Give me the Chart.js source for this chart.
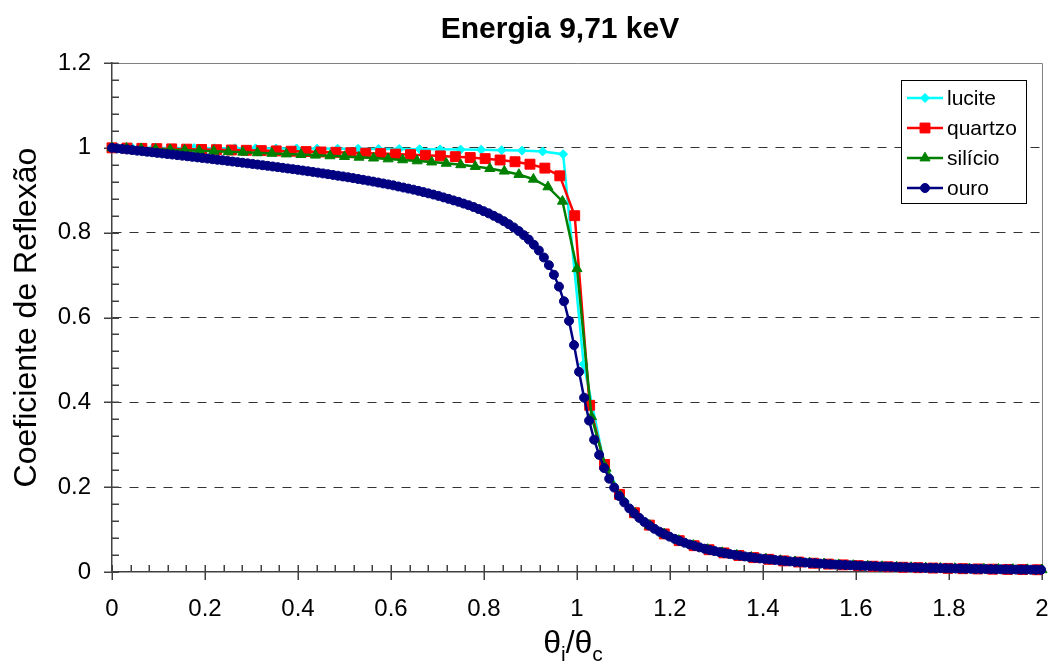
<!DOCTYPE html>
<html>
<head>
<meta charset="utf-8">
<script src="https://cdn.jsdelivr.net/npm/chart.js@4.4.0/dist/chart.umd.min.js"></script>
<style>
html,body{margin:0;padding:0;background:#ffffff;}
#wrap{position:relative;width:1053px;height:665px;}
canvas{display:block;}
</style>
</head>
<body>
<div id="wrap"><canvas id="c" width="1053" height="665"></canvas></div>
<script>
const chartTitle = 'Energia 9,71 keV';
const yAxisTitle = 'Coeficiente de Reflexão';
const seriesNames = ['lucite', 'quartzo', 'silício', 'ouro'];
const xTickLabels = ['0', '0.2', '0.4', '0.6', '0.8', '1', '1.2', '1.4', '1.6', '1.8', '2'];
const yTickLabels = ['0', '0.2', '0.4', '0.6', '0.8', '1', '1.2'];

const luciteX = [0, 0.0441, 0.0882, 0.1323, 0.1764, 0.2205, 0.2646, 0.3087, 0.3528, 0.3969, 0.441, 0.4851, 0.5292, 0.5733, 0.6174, 0.6615, 0.7056, 0.7497, 0.7938, 0.8379, 0.882, 0.9261, 0.9702, 1.0143, 1.0584, 1.1025, 1.1466, 1.1907, 1.2348, 1.2789, 1.323, 1.3671, 1.4112, 1.4553, 1.4994, 1.5435, 1.5876, 1.6317, 1.6758, 1.7199, 1.764, 1.8081, 1.8522, 1.8963, 1.9404, 1.9845];
const luciteY = [1, 0.9998, 0.9997, 0.9995, 0.9994, 0.9992, 0.999, 0.9988, 0.9986, 0.9984, 0.9982, 0.998, 0.9978, 0.9975, 0.9972, 0.9968, 0.9964, 0.9959, 0.9953, 0.9945, 0.9935, 0.9915, 0.985, 0.49, 0.2565, 0.166, 0.1177, 0.0883, 0.0681, 0.0538, 0.0435, 0.0358, 0.03, 0.0251, 0.0213, 0.0184, 0.0159, 0.0138, 0.0121, 0.0106, 0.0094, 0.0083, 0.0074, 0.0066, 0.0059, 0.0054];

const quartzoX = [0, 0.0321, 0.0642, 0.0963, 0.1284, 0.1605, 0.1926, 0.2247, 0.2568, 0.2889, 0.321, 0.3531, 0.3852, 0.4173, 0.4494, 0.4815, 0.5136, 0.5457, 0.5778, 0.6099, 0.642, 0.6741, 0.7062, 0.7383, 0.7704, 0.8025, 0.8346, 0.8667, 0.8988, 0.9309, 0.963, 0.9951, 1.0272, 1.0593, 1.0914, 1.1235, 1.1556, 1.1877, 1.2198, 1.2519, 1.284, 1.3161, 1.3482, 1.3803, 1.4124, 1.4445, 1.4766, 1.5087, 1.5408, 1.5729, 1.605, 1.6371, 1.6692, 1.7013, 1.7334, 1.7655, 1.7976, 1.8297, 1.8618, 1.8939, 1.926, 1.9581, 1.9902];
const quartzoY = [1, 0.9994, 0.9988, 0.9981, 0.9975, 0.9969, 0.9962, 0.9956, 0.9949, 0.9942, 0.9935, 0.9928, 0.992, 0.9912, 0.9903, 0.9895, 0.9885, 0.9875, 0.9864, 0.9852, 0.9839, 0.9825, 0.981, 0.9792, 0.9771, 0.9745, 0.9713, 0.9672, 0.9614, 0.9522, 0.934, 0.84, 0.393, 0.2535, 0.183, 0.1397, 0.1105, 0.0898, 0.0739, 0.062, 0.0525, 0.045, 0.0389, 0.0339, 0.0299, 0.0262, 0.0235, 0.0207, 0.0186, 0.0168, 0.015, 0.0136, 0.0123, 0.0112, 0.0102, 0.0093, 0.0086, 0.0078, 0.0072, 0.0066, 0.0061, 0.0057, 0.0053];

const silicioX = [0, 0.03125, 0.0625, 0.09375, 0.125, 0.15625, 0.1875, 0.21875, 0.25, 0.28125, 0.3125, 0.34375, 0.375, 0.40625, 0.4375, 0.46875, 0.5, 0.53125, 0.5625, 0.59375, 0.625, 0.65625, 0.6875, 0.71875, 0.75, 0.78125, 0.8125, 0.84375, 0.875, 0.90625, 0.9375, 0.96875, 1, 1.03125, 1.0625, 1.09375, 1.125, 1.15625, 1.1875, 1.21875, 1.25, 1.28125, 1.3125, 1.34375, 1.375, 1.40625, 1.4375, 1.46875, 1.5, 1.53125, 1.5625, 1.59375, 1.625, 1.65625, 1.6875, 1.71875, 1.75, 1.78125, 1.8125, 1.84375, 1.875, 1.90625, 1.9375, 1.96875, 2];
const silicioY = [1, 0.9989, 0.9977, 0.9966, 0.9955, 0.9943, 0.9931, 0.992, 0.9907, 0.9895, 0.9882, 0.9869, 0.9855, 0.9841, 0.9826, 0.9811, 0.9794, 0.9777, 0.9758, 0.9738, 0.9716, 0.9692, 0.9665, 0.9635, 0.96, 0.956, 0.9511, 0.945, 0.9371, 0.9259, 0.9079, 0.874, 0.715, 0.366, 0.2445, 0.1792, 0.1381, 0.11, 0.0899, 0.0744, 0.0627, 0.0532, 0.0458, 0.0397, 0.0347, 0.0305, 0.0271, 0.0242, 0.0213, 0.0193, 0.0172, 0.0155, 0.0141, 0.0128, 0.0117, 0.0106, 0.0097, 0.009, 0.0082, 0.0075, 0.007, 0.0064, 0.006, 0.0056, 0.0052];

const ouroX = [0, 0.0108, 0.0216, 0.0324, 0.0432, 0.054, 0.0648, 0.0756, 0.0864, 0.0972, 0.108, 0.1188, 0.1296, 0.1404, 0.1512, 0.162, 0.1728, 0.1836, 0.1944, 0.2052, 0.216, 0.2268, 0.2376, 0.2484, 0.2592, 0.27, 0.2808, 0.2916, 0.3024, 0.3132, 0.324, 0.3348, 0.3456, 0.3564, 0.3672, 0.378, 0.3888, 0.3996, 0.4104, 0.4212, 0.432, 0.4428, 0.4536, 0.4644, 0.4752, 0.486, 0.4968, 0.5076, 0.5184, 0.5292, 0.54, 0.5508, 0.5616, 0.5724, 0.5832, 0.594, 0.6048, 0.6156, 0.6264, 0.6372, 0.648, 0.6588, 0.6696, 0.6804, 0.6912, 0.702, 0.7128, 0.7236, 0.7344, 0.7452, 0.756, 0.7668, 0.7776, 0.7884, 0.7992, 0.81, 0.8208, 0.8316, 0.8424, 0.8532, 0.864, 0.8748, 0.8856, 0.8964, 0.9072, 0.918, 0.9288, 0.9396, 0.9504, 0.9612, 0.972, 0.9828, 0.9936, 1.0044, 1.0152, 1.026, 1.0368, 1.0476, 1.0584, 1.0692, 1.08, 1.0908, 1.1016, 1.1124, 1.1232, 1.134, 1.1448, 1.1556, 1.1664, 1.1772, 1.188, 1.1988, 1.2096, 1.2204, 1.2312, 1.242, 1.2528, 1.2636, 1.2744, 1.2852, 1.296, 1.3068, 1.3176, 1.3284, 1.3392, 1.35, 1.3608, 1.3716, 1.3824, 1.3932, 1.404, 1.4148, 1.4256, 1.4364, 1.4472, 1.458, 1.4688, 1.4796, 1.4904, 1.5012, 1.512, 1.5228, 1.5336, 1.5444, 1.5552, 1.566, 1.5768, 1.5876, 1.5984, 1.6092, 1.62, 1.6308, 1.6416, 1.6524, 1.6632, 1.674, 1.6848, 1.6956, 1.7064, 1.7172, 1.728, 1.7388, 1.7496, 1.7604, 1.7712, 1.782, 1.7928, 1.8036, 1.8144, 1.8252, 1.836, 1.8468, 1.8576, 1.8684, 1.8792, 1.89, 1.9008, 1.9116, 1.9224, 1.9332, 1.944, 1.9548, 1.9656, 1.9764, 1.9872, 1.998];
const ouroY = [1, 0.9987, 0.9974, 0.9961, 0.9947, 0.9934, 0.9921, 0.9908, 0.9895, 0.9881, 0.9868, 0.9855, 0.9842, 0.9828, 0.9815, 0.9801, 0.9788, 0.9774, 0.9761, 0.9747, 0.9733, 0.9719, 0.9706, 0.9692, 0.9677, 0.9663, 0.9649, 0.9634, 0.962, 0.9605, 0.959, 0.9575, 0.956, 0.9545, 0.9529, 0.9513, 0.9498, 0.9482, 0.9465, 0.9448, 0.9432, 0.9415, 0.9397, 0.9379, 0.9361, 0.9343, 0.9325, 0.9306, 0.9286, 0.9266, 0.9246, 0.9226, 0.9204, 0.9182, 0.916, 0.9138, 0.9115, 0.9089, 0.9064, 0.9039, 0.9014, 0.8986, 0.8956, 0.8927, 0.8898, 0.8867, 0.8832, 0.8797, 0.8761, 0.8726, 0.8686, 0.8648, 0.8604, 0.8557, 0.8507, 0.8456, 0.8398, 0.8338, 0.8272, 0.8201, 0.8123, 0.8038, 0.7942, 0.7837, 0.7715, 0.758, 0.7415, 0.7234, 0.7008, 0.6728, 0.6383, 0.592, 0.535, 0.472, 0.411, 0.357, 0.312, 0.276, 0.245, 0.22, 0.199, 0.179, 0.164, 0.15, 0.138, 0.1275, 0.118, 0.1095, 0.1019, 0.0951, 0.0892, 0.0834, 0.0783, 0.0733, 0.0691, 0.065, 0.0615, 0.0581, 0.0549, 0.052, 0.0493, 0.0468, 0.0444, 0.0423, 0.0403, 0.0385, 0.0367, 0.0351, 0.0335, 0.032, 0.0308, 0.0296, 0.0284, 0.0272, 0.0259, 0.025, 0.0241, 0.0233, 0.0222, 0.0212, 0.0206, 0.0198, 0.0191, 0.0183, 0.0176, 0.017, 0.0165, 0.0159, 0.0153, 0.0148, 0.0143, 0.0139, 0.0134, 0.0129, 0.0125, 0.0122, 0.0118, 0.0114, 0.011, 0.0107, 0.0104, 0.0101, 0.0097, 0.0095, 0.0092, 0.009, 0.0087, 0.0084, 0.0082, 0.008, 0.0077, 0.0075, 0.0073, 0.0071, 0.0069, 0.0067, 0.0065, 0.0063, 0.0062, 0.006, 0.0058, 0.0057, 0.0056, 0.0055, 0.0054, 0.0052];

const FONT = '"Liberation Sans", Arial, Helvetica, sans-serif';
const AXIS_COLOR = '#404040';

function pts(xs, ys) { return xs.map((x, i) => ({ x: x, y: ys[i] })); }

const seriesStyle = [
  { color: '#00FFFF', style: 'rectRot', radius: 4.5, order: 3 },
  { color: '#FF0000', style: 'rect', radius: 7, order: 2 },
  { color: '#008000', style: 'triangle', radius: 5.8, order: 1 },
  { color: '#000080', style: 'circle', radius: 4.5, order: 0 }
];
const seriesData = [pts(luciteX, luciteY), pts(quartzoX, quartzoY), pts(silicioX, silicioY), pts(ouroX, ouroY)];

const datasets = seriesNames.map((name, i) => ({
  label: name,
  data: seriesData[i],
  showLine: true,
  borderColor: seriesStyle[i].color,
  backgroundColor: seriesStyle[i].color,
  borderWidth: 2.5,
  pointStyle: seriesStyle[i].style,
  pointRadius: seriesStyle[i].radius,
  pointHoverRadius: seriesStyle[i].radius,
  pointBorderWidth: 1,
  pointBorderColor: seriesStyle[i].color,
  pointBackgroundColor: seriesStyle[i].color,
  tension: 0,
  clip: false,
  order: seriesStyle[i].order
}));

function drawMarker(ctx, style, r, x, y) {
  if (Chart.helpers && Chart.helpers.drawPoint) {
    Chart.helpers.drawPoint(ctx, { pointStyle: style, radius: r, rotation: 0, borderWidth: 1 }, x, y);
    return;
  }
  ctx.beginPath();
  ctx.arc(x, y, r, 0, Math.PI * 2);
  ctx.fill(); ctx.stroke();
}

const decor = {
  id: 'decor',
  beforeDatasetsDraw(chart) {
    const { ctx, chartArea: a, scales } = chart;
    const xs = scales.x, ys = scales.y;
    ctx.save();
    ctx.strokeStyle = '#808080';
    ctx.lineWidth = 1;
    ctx.setLineDash([]);
    const top = Math.round(ys.getPixelForValue(1.2)) + 0.5;
    const right = Math.round(xs.getPixelForValue(2)) + 0.5;
    ctx.beginPath();
    ctx.moveTo(a.left, top);
    ctx.lineTo(right, top);
    ctx.lineTo(right, a.bottom);
    ctx.stroke();
    ctx.strokeStyle = AXIS_COLOR;
    ctx.lineWidth = 1.5;
    ctx.beginPath();
    const bottom = ys.getPixelForValue(0);
    const left = xs.getPixelForValue(0);
    for (let i = 0; i <= 50; i++) {
      const px = Math.round(xs.getPixelForValue(i * 0.04)) + 0.25;
      const major = (i % 5 === 0);
      ctx.moveTo(px, bottom - 7);
      ctx.lineTo(px, bottom + (major ? 8 : 0));
    }
    for (let i = 0; i <= 30; i++) {
      const py = Math.round(ys.getPixelForValue(i * 0.04)) + 0.25;
      const major = (i % 5 === 0);
      ctx.moveTo(left - (major ? 8 : 0), py);
      ctx.lineTo(left + 7, py);
    }
    ctx.stroke();
    ctx.restore();
  },
  afterDraw(chart) {
    const { ctx } = chart;
    ctx.save();
    ctx.fillStyle = '#000';
    ctx.font = 'bold 30px ' + FONT;
    ctx.textAlign = 'center';
    ctx.textBaseline = 'alphabetic';
    ctx.fillText(chartTitle, 560, 38);

    const mainF = '32px ' + FONT, subF = '21px ' + FONT;
    ctx.textAlign = 'left';
    ctx.font = mainF; const w1 = ctx.measureText('\u03B8').width; const w3 = ctx.measureText('/\u03B8').width;
    ctx.font = subF; const w2 = ctx.measureText('i').width; const w4 = ctx.measureText('c').width;
    const total = w1 + w2 + w3 + w4;
    let cx = 573 - total / 2;
    const base = 653;
    ctx.font = mainF; ctx.fillText('\u03B8', cx, base); cx += w1;
    ctx.font = subF; ctx.fillText('i', cx, base + 8); cx += w2;
    ctx.font = mainF; ctx.fillText('/\u03B8', cx, base); cx += w3;
    ctx.font = subF; ctx.fillText('c', cx, base + 8);

    const lx = 901.5, ly = 80.5, lw = 125, lh = 123;
    ctx.fillStyle = '#ffffff';
    ctx.fillRect(lx, ly, lw, lh);
    ctx.strokeStyle = '#000000';
    ctx.lineWidth = 1;
    ctx.strokeRect(lx, ly, lw, lh);
    ctx.font = '21px ' + FONT;
    ctx.textBaseline = 'middle';
    ctx.textAlign = 'left';
    seriesNames.forEach((name, i) => {
      const yy = 98 + i * 30;
      const st = seriesStyle[i];
      ctx.strokeStyle = st.color;
      ctx.fillStyle = st.color;
      ctx.lineWidth = 2.5;
      ctx.beginPath();
      ctx.moveTo(907, yy);
      ctx.lineTo(943, yy);
      ctx.stroke();
      ctx.lineWidth = 1;
      drawMarker(ctx, st.style, st.radius, 925, yy);
      ctx.fillStyle = '#000';
      ctx.fillText(name, 947, yy + 1);
    });
    ctx.restore();
  }
};

new Chart(document.getElementById('c'), {
  type: 'scatter',
  data: { datasets: datasets },
  options: {
    responsive: false,
    animation: false,
    events: [],
    layout: { padding: { top: 63, right: 11, left: 0, bottom: 0 } },
    plugins: {
      legend: { display: false },
      title: { display: false },
      tooltip: { enabled: false }
    },
    scales: {
      x: {
        type: 'linear',
        min: 0, max: 2,
        afterFit(s) { s.height = 93; },
        ticks: {
          stepSize: 0.2,
          padding: 2,
          maxRotation: 0,
          autoSkip: false,
          color: '#000',
          font: { family: FONT, size: 24 },
          callback: (v, i) => xTickLabels[i]
        },
        grid: { display: false, drawTicks: true, tickLength: 21 },
        border: { display: true, color: AXIS_COLOR, width: 1.5 }
      },
      y: {
        type: 'linear',
        min: 0, max: 1.2,
        afterFit(s) { s.width = 112; },
        ticks: {
          stepSize: 0.2,
          padding: 21,
          autoSkip: false,
          color: '#000',
          font: { family: FONT, size: 24 },
          callback: (v, i) => yTickLabels[i]
        },
        grid: {
          drawTicks: false,
          lineWidth: 1,
          color: (c) => {
            const v = c.tick ? c.tick.value : null;
            if (v === null || Math.abs(v) < 1e-9 || Math.abs(v - 1.2) < 1e-9) return 'rgba(0,0,0,0)';
            return '#333333';
          }
        },
        border: { display: true, color: AXIS_COLOR, width: 1.5, dash: [9, 8] },
        title: {
          display: true,
          text: yAxisTitle,
          color: '#000',
          font: { family: FONT, size: 32 },
          padding: { top: 8, bottom: 0 }
        }
      }
    }
  },
  plugins: [decor]
});
</script>
</body>
</html>
